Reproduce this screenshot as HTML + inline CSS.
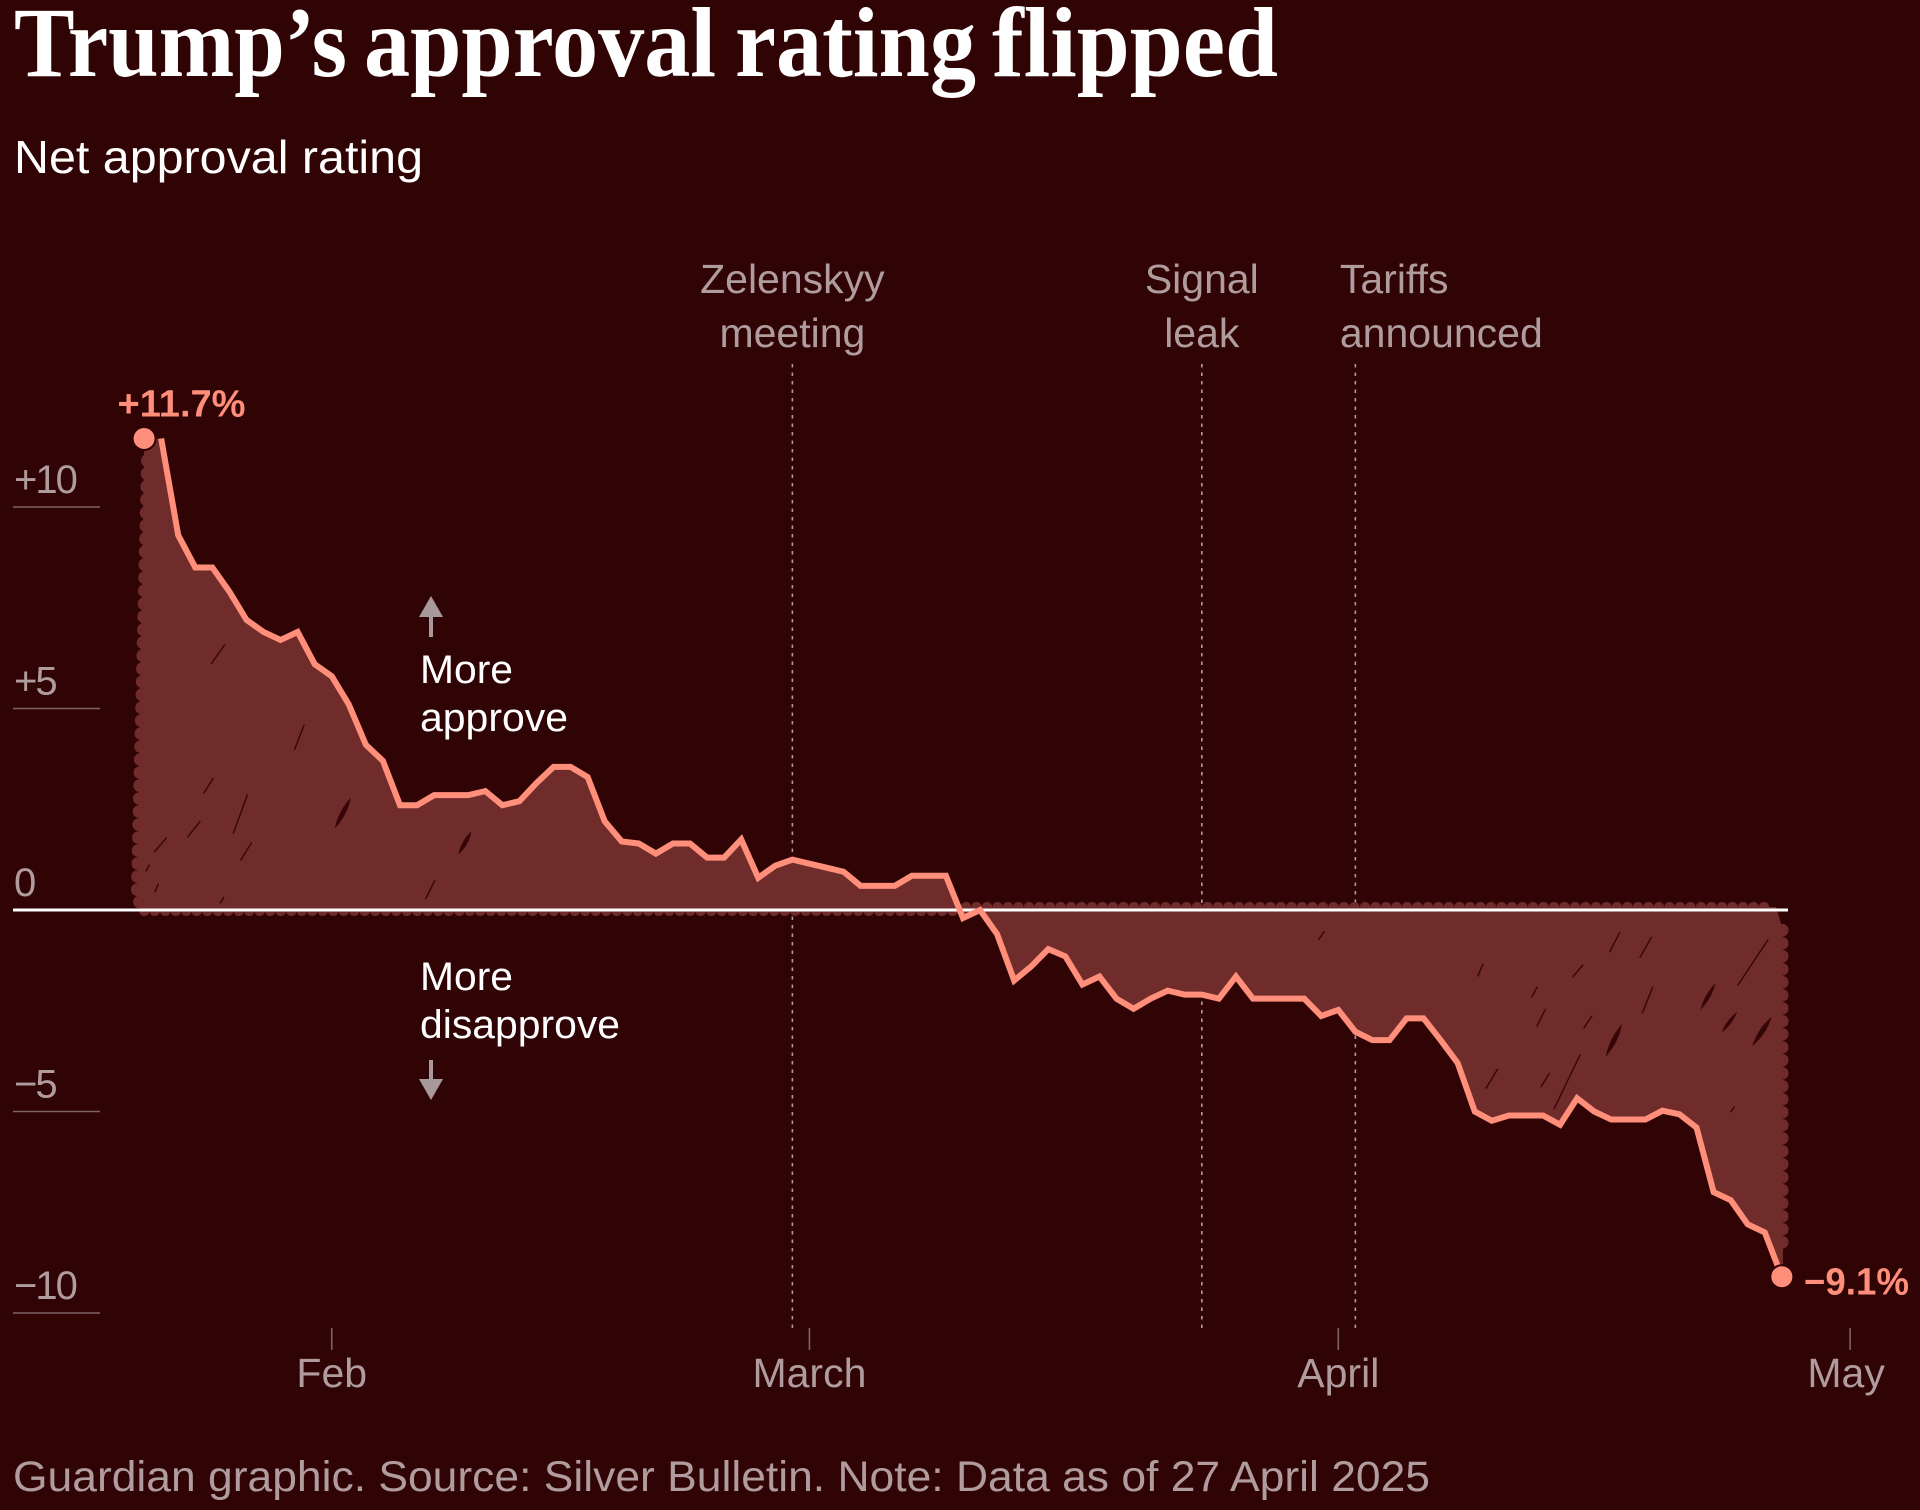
<!DOCTYPE html>
<html lang="en">
<head>
<meta charset="utf-8">
<title>Trump's approval rating flipped</title>
<style>
html,body{margin:0;padding:0;background:#300304;}
body{width:1920px;height:1510px;overflow:hidden;}
svg{display:block;}
text{font-family:"Liberation Sans",sans-serif;}
.title{font-family:"Liberation Serif",serif;font-weight:700;font-size:100px;fill:#fff;}
.muted{fill:#b09c9e;font-size:41px;}
.white{fill:#fff;font-size:40px;}
.value{fill:#ff8f7a;font-size:38px;font-weight:700;}
</style>
</head>
<body>
<svg id="chart" width="1920" height="1510" viewBox="0 0 1920 1510" xmlns="http://www.w3.org/2000/svg">
  <rect width="1920" height="1510" fill="#300304"/>
  <g>
    <text class="title" x="14" y="76" textLength="333" lengthAdjust="spacingAndGlyphs">Trump’s</text>
    <text class="title" x="364" y="76" textLength="352" lengthAdjust="spacingAndGlyphs">approval</text>
    <text class="title" x="735" y="76" textLength="241" lengthAdjust="spacingAndGlyphs">rating</text>
    <text class="title" x="992" y="76" textLength="286" lengthAdjust="spacingAndGlyphs">flipped</text>
  </g>
  <text x="14" y="173" fill="#fff" font-size="46" textLength="409" lengthAdjust="spacingAndGlyphs">Net approval rating</text>
  <g id="events"></g>
  <g id="yaxis"></g>
  <g id="area"></g>
  <g>
    <path fill="none" stroke="#360606" stroke-linecap="round" stroke-width="1.4" d="M211.4 663.6L224.5 645M294.7 749.3L304 725M204 793L213 778.6M233.5 833L247.3 795M187.8 836.8L200 821.4M154.3 852L166.5 837.9M240.8 860L251.4 842.9M425.7 898.6L434.7 880.7M146 871L149.4 865M155 892L158.4 884M220.4 903L223.7 897.5M1609.8 951.7L1619.6 932.7M1640 957.3L1651.4 937.3M1738 985L1767.8 940M1642.4 1012.7L1652.7 987.3M1537 1026L1545.3 1009.3M1584 1027.7L1592 1016M1573 976.7L1582.9 965M1478 976L1482.9 964M1532 996.7L1537 987.3M1486 1088.3L1497.6 1069.3M1541 1086.7L1549.4 1073.3M1554.3 1108.3L1580 1055M1318.8 939.3L1324 931.7M1731 1111.7L1734.3 1106.7"/>
    <path fill="#360606" d="M334.7 828.6Q347.3 815.3 351 797.5Q338.4 810.7 334.7 828.6ZM458.4 854.6Q469 845 471.4 831.4Q460.8 841 458.4 854.6ZM1700.4 1010Q1712 998 1715.5 983.3Q1704 995 1700.4 1010ZM1721.6 1032.7Q1733 1024 1737.1 1011.7Q1726 1020.5 1721.6 1032.7ZM1752.2 1046Q1766 1035 1771.8 1016.7Q1758 1028 1752.2 1046ZM1605.7 1056.7Q1619 1042 1622 1024Q1609 1039 1605.7 1056.7Z"/>
  </g>
  <g id="xaxis"></g>
  <line x1="13" x2="1788" y1="910" y2="910" stroke="#fff" stroke-width="3"/>
  <g id="series"></g>
  <g>
    <path d="M431 596L443 617H433V637H429V617H419Z" fill="#a89a9c"/>
    <text class="white" x="420" y="683" textLength="93" lengthAdjust="spacingAndGlyphs">More</text>
    <text class="white" x="420" y="731" textLength="148" lengthAdjust="spacingAndGlyphs">approve</text>
  </g>
  <g>
    <text class="white" x="420" y="990" textLength="93" lengthAdjust="spacingAndGlyphs">More</text>
    <text class="white" x="420" y="1038" textLength="200" lengthAdjust="spacingAndGlyphs">disapprove</text>
    <path d="M431 1100L443 1079H433V1060H429V1079H419Z" fill="#a89a9c"/>
  </g>
  <text class="muted" x="13" y="1491" style="font-size:43px" textLength="1417" lengthAdjust="spacingAndGlyphs">Guardian graphic. Source: Silver Bulletin. Note: Data as of 27 April 2025</text>
</svg>
<script>
// Daily net approval, one value per day starting on 21 January 2025
const netApproval = [
  11.7, 11.7, 9.3, 8.5, 8.5, 7.9, 7.2, 6.9, 6.7, 6.9,
  6.1, 5.8, 5.1, 4.1, 3.7, 2.6, 2.6, 2.85, 2.85, 2.85,
  2.95, 2.6, 2.7, 3.15, 3.55, 3.55, 3.3, 2.2, 1.7, 1.65,
  1.4, 1.65, 1.65, 1.3, 1.3, 1.75, 0.8, 1.1, 1.25, 1.15,
  1.05, 0.95, 0.6, 0.6, 0.6, 0.85, 0.85, 0.85, -0.2, 0,
  -0.6, -1.75, -1.4, -0.97, -1.15, -1.85, -1.65, -2.2, -2.45, -2.2,
  -2, -2.1, -2.1, -2.2, -1.65, -2.2, -2.2, -2.2, -2.2, -2.63,
  -2.48, -3.02, -3.23, -3.23, -2.69, -2.69, -3.23, -3.8, -5, -5.23,
  -5.1, -5.1, -5.1, -5.33, -4.67, -5, -5.2, -5.2, -5.2, -4.98,
  -5.07, -5.4, -7, -7.2, -7.8, -8, -9.1
];
const yTickValues = [10, 5, 0, -5, -10];
const yTickLabels = ['+10', '+5', '0', '−5', '−10'];
const monthLabels = ['Feb', 'March', 'April', 'May'];
const monthDays = [11, 39, 70, 100];
const eventDays = [38, 62, 71];
const eventFirstLines = ['Zelenskyy', 'Signal', 'Tariffs'];
const eventSecondLines = ['meeting', 'leak', 'announced'];
const endpointLabels = ['+11.7%', '−9.1%'];

const NS = 'http://www.w3.org/2000/svg';
function x(day) { return 144.1 + day * 17.06; }
function y(value) { return 910 - value * 40.3; }
function make(parentId, tag, attrs, txt) {
  const el = document.createElementNS(NS, tag);
  Object.keys(attrs).forEach(function (k) { el.setAttribute(k, attrs[k]); });
  if (txt !== undefined) el.textContent = txt;
  document.getElementById(parentId).appendChild(el);
  return el;
}

// Events
eventDays.forEach(function (day, i) {
  const line = make('events', 'line', { x1: x(day), x2: x(day), y1: 364, y2: 1328, stroke: '#b09c9e', 'stroke-width': 1.6, 'stroke-dasharray': '3.5 5' });
  
  
  const left = i === 2;
  const anchor = left ? 'start' : 'middle';
  const tx = left ? x(day) - 15.5 : x(day);
  const a = make('events', 'text', { class: 'muted', x: tx, y: 293, 'text-anchor': anchor }, eventFirstLines[i]);
  
  
  const b = make('events', 'text', { class: 'muted', x: tx, y: 347, 'text-anchor': anchor }, eventSecondLines[i]);
  
  
});

// Y axis
yTickValues.forEach(function (v, i) {
  if (v !== 0) {
    const t = make('yaxis', 'line', { x1: 13, x2: 100, y1: y(v), y2: y(v), stroke: '#7d6466', 'stroke-width': 1.6 });
    
    
  }
  const l = make('yaxis', 'text', { class: 'muted', x: 14, y: y(v) - 14, 'letter-spacing': '-2', style: 'font-size:40px' }, yTickLabels[i]);
  
  
});

// X axis
monthDays.forEach(function (d, i) {
  const t = make('xaxis', 'line', { x1: x(d), x2: x(d), y1: 1328, y2: 1350, stroke: '#7d6466', 'stroke-width': 1.6 });
  
  
  const l = make('xaxis', 'text', { class: 'muted', x: x(d) - (i === 3 ? 4 : 0), y: 1387, 'text-anchor': 'middle' }, monthLabels[i]);
  
  
});

// Area, drawn from the series with scalloped brush edges
const FILL = '#6f2c2a';
const lastDay = netApproval.length - 1;
let crossDay = lastDay;
for (let i = 1; i < netApproval.length; i++) {
  if (netApproval[i - 1] > 0 && netApproval[i] <= 0) {
    crossDay = i - 1 + netApproval[i - 1] / (netApproval[i - 1] - netApproval[i]);
    break;
  }
}
let pos = 'M144 ' + (y(netApproval[0]) + 14);
let neg = 'M' + x(crossDay) + ' 907';
for (let i = 0; i <= lastDay; i++) {
  if (i <= crossDay) pos += 'L' + x(i) + ' ' + y(netApproval[i]);
  else neg += 'L' + x(i) + ' ' + y(netApproval[i]);
}
pos += 'L' + x(crossDay) + ' 910L' + x(crossDay) + ' 911L143 911L137 900Z';
const lastY = y(netApproval[lastDay]);
neg += 'L1783 ' + (lastY - 12) + 'L1783 930L1776 907Z';
const posArea = make('area', 'path', { d: pos, fill: FILL });


const negArea = make('area', 'path', { d: neg, fill: FILL });


const edges = [
  'M147 ' + (y(netApproval[0]) + 22) + 'L137 885L137 898L144 911',
  'M144 911L' + (x(crossDay) - 3) + ' 911',
  'M' + (x(crossDay) + 6) + ' 907L1774 907',
  'M1782.5 930L1782.5 ' + (lastY - 22)
];
edges.forEach(function (d, i) {
  const side = i === 0 || i === 3;
  const e = make('area', 'path', { d: d, fill: 'none', stroke: FILL, 'stroke-width': side ? 12 : 10, 'stroke-linecap': 'round', 'stroke-dasharray': side ? '0.5 12.5' : '0.5 10' });
  
  
});

// Line and end points
let d = '';
for (let i = 1; i <= lastDay; i++) d += (i === 1 ? 'M' : 'L') + x(i) + ' ' + y(netApproval[i]);
const line = make('series', 'path', { d: d, fill: 'none', stroke: '#ff8f7a', 'stroke-width': 6, 'stroke-linejoin': 'miter' });


const d0 = make('series', 'circle', { cx: x(0), cy: y(netApproval[0]), r: 11.5, fill: '#ff8f7a', stroke: '#300304', 'stroke-width': 2 });


const d1 = make('series', 'circle', { cx: x(lastDay), cy: lastY, r: 11.5, fill: '#ff8f7a', stroke: '#300304', 'stroke-width': 2 });


const l0 = make('series', 'text', { class: 'value', x: 117.5, y: y(netApproval[0]) - 22, textLength: 128, lengthAdjust: 'spacingAndGlyphs' }, endpointLabels[0]);


const l1 = make('series', 'text', { class: 'value', x: 1804, y: lastY + 18, textLength: 105, lengthAdjust: 'spacingAndGlyphs' }, endpointLabels[1]);


</script>
</body>
</html>
